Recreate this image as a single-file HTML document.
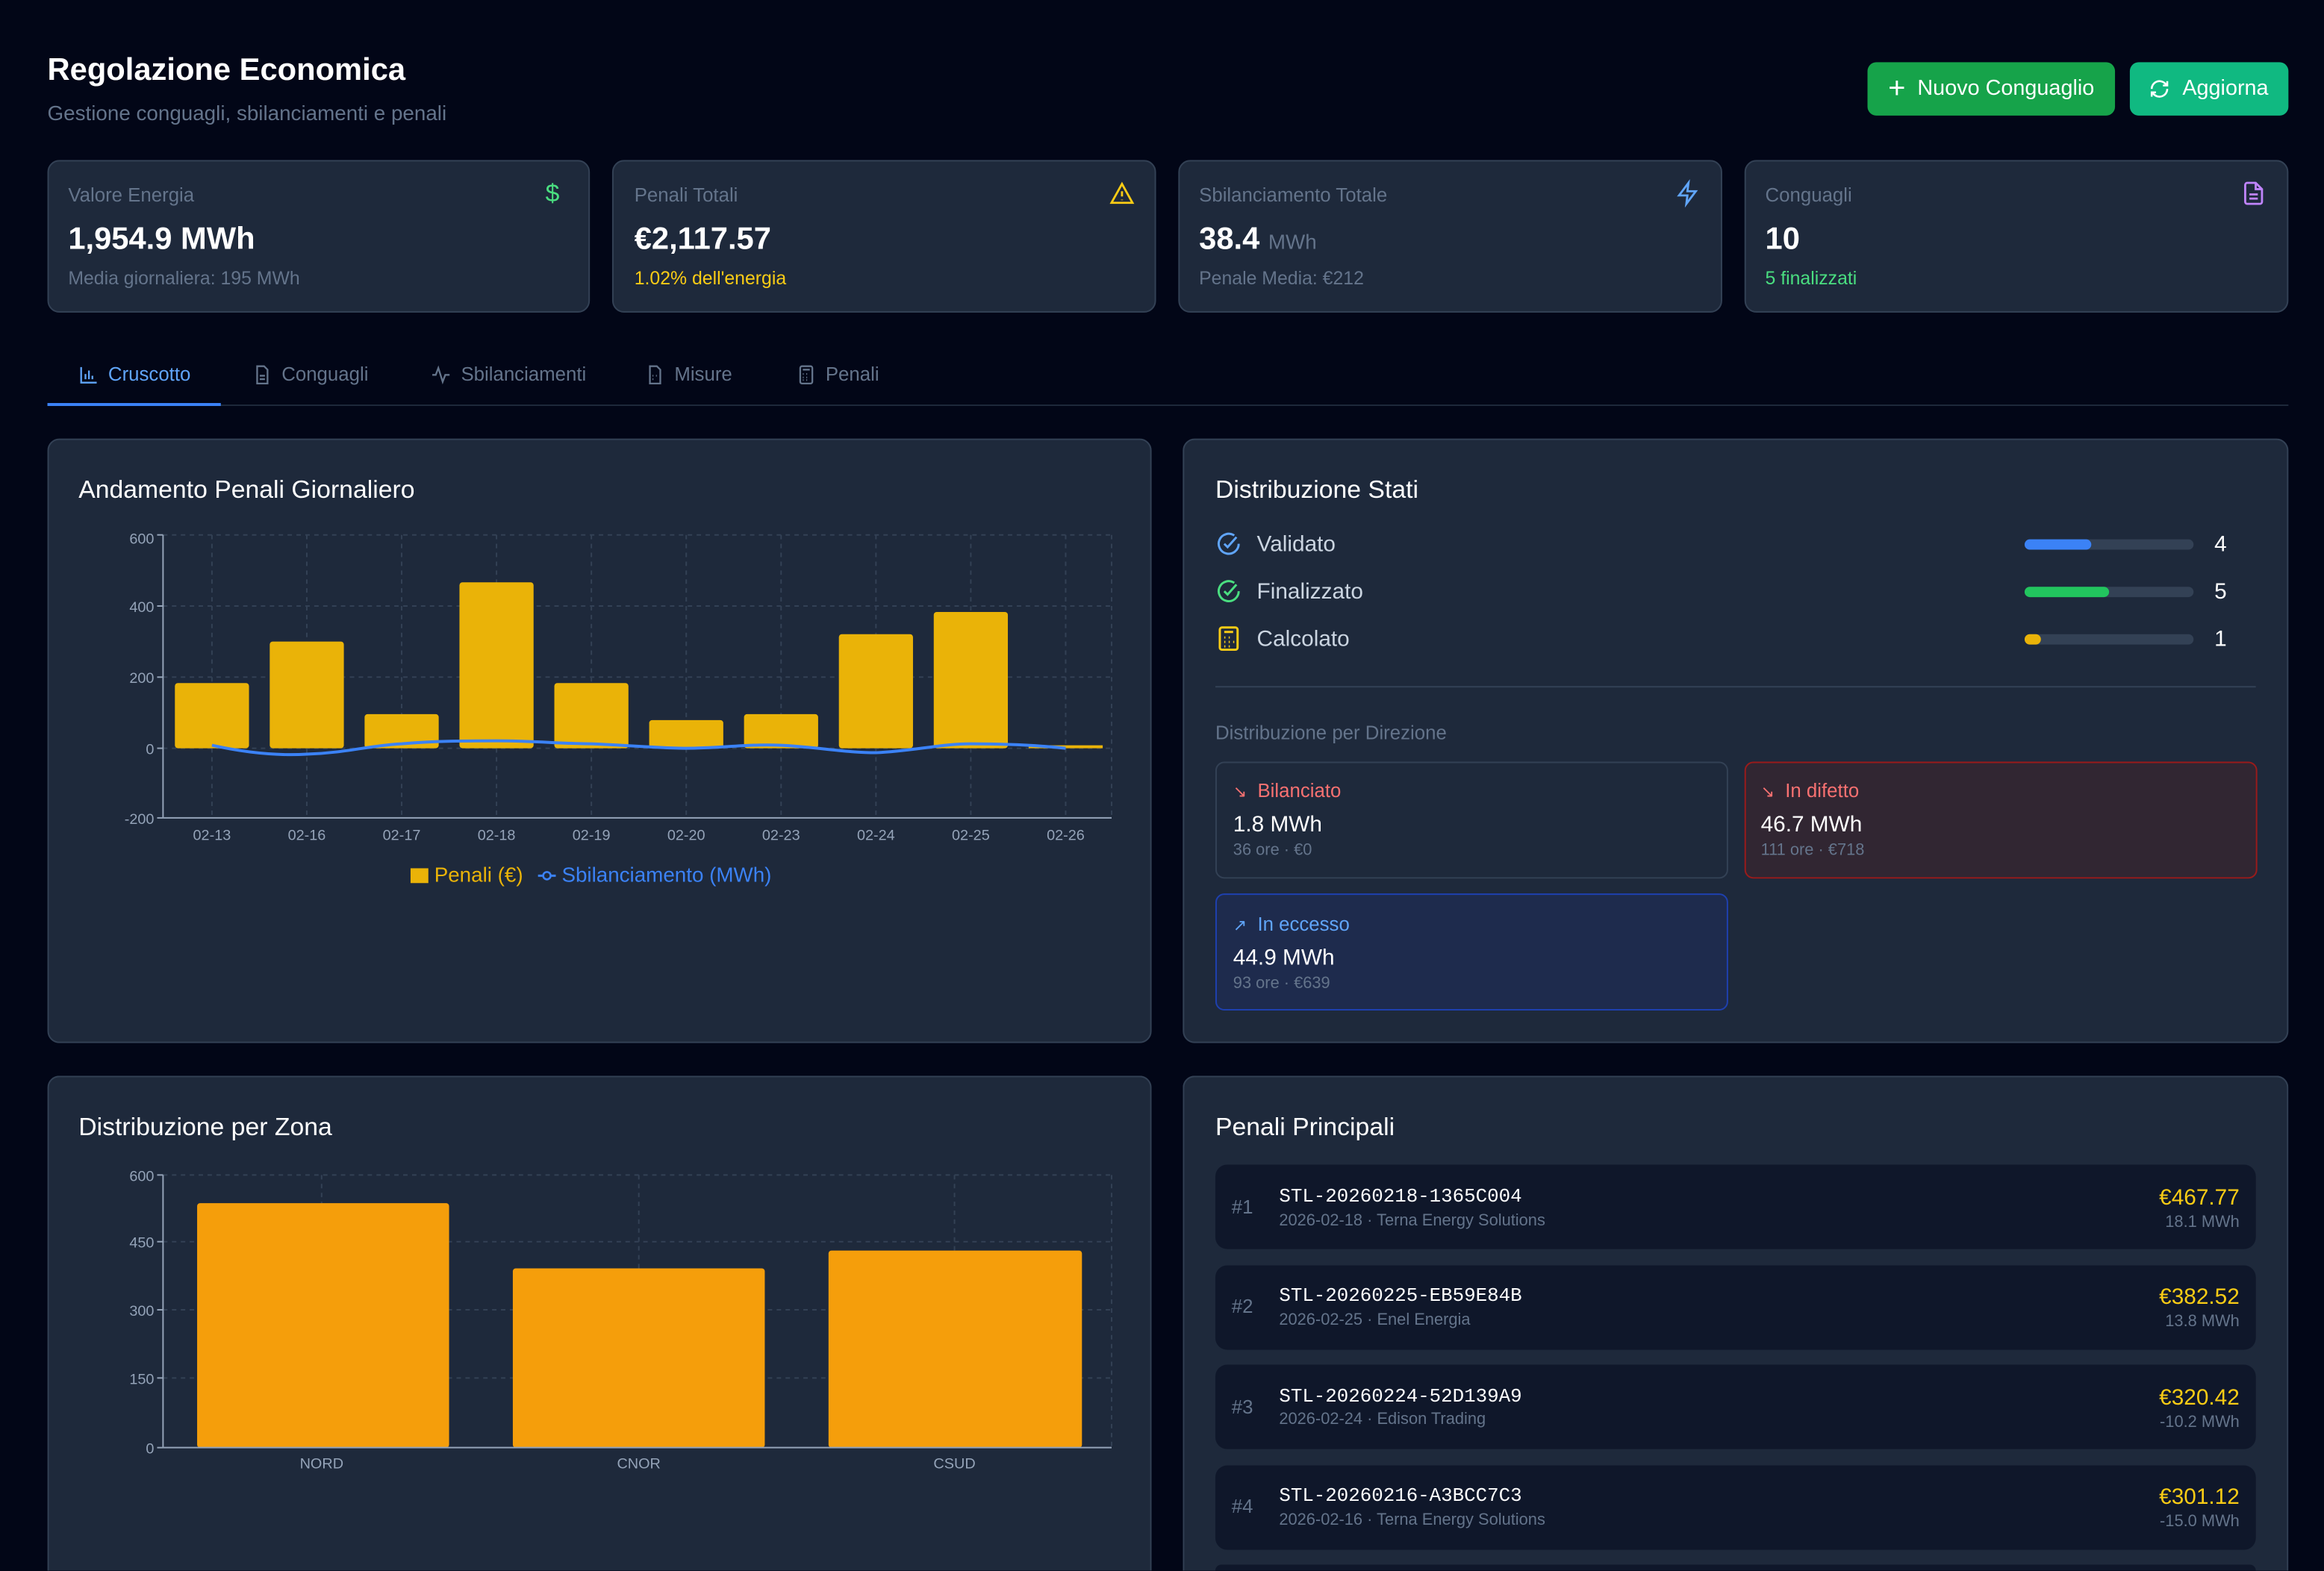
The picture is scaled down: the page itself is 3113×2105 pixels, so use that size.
<!DOCTYPE html>
<html><head><meta charset="utf-8">
<style>
*{box-sizing:border-box;margin:0;padding:0}
html,body{width:3113px;height:2105px;overflow:hidden;background:#020617}
#wrap{position:absolute;left:0;top:0;width:3113px;height:2105px;overflow:hidden}
#root{position:absolute;left:0;top:0;width:1568px;height:1060px;overflow:hidden;transform:scale(1.98533);transform-origin:0 0;font-family:"Liberation Sans",sans-serif;color:#fff;background:#020617}
.a{position:absolute;white-space:nowrap}
.card{position:absolute;background:#1e293b;border:1px solid #334155;border-radius:8px}
.cardb{position:absolute;background:#1e293b;border:1px solid #334155;border-bottom:none;border-radius:8px 8px 0 0}
.lbl{font-size:13px;color:#64748b}
.btn{position:absolute;border-radius:6px;color:#fff;font-size:14.5px;display:flex;align-items:center;justify-content:center;gap:8px}
.tab{position:absolute;top:245px;font-size:13px;color:#64748b;display:flex;align-items:center;gap:6px}
.row{position:absolute;left:820px;width:702px;height:57px;background:#0f172a;border-radius:8px}
.mono{font-family:"Liberation Mono",monospace}
</style></head><body><div id="wrap"><div id="root">

<div class="a" style="left:32px;top:36px;font-size:21px;font-weight:bold">Regolazione Economica</div>
<div class="a" style="left:32px;top:68px;font-size:14px;color:#64748b">Gestione conguagli, sbilanciamenti e penali</div>
<div class="btn" style="left:1260px;top:42px;width:167px;height:36px;background:#16a34a"><span style="font-size:20px;font-weight:300;line-height:1">+</span>Nuovo Conguaglio</div>
<div class="btn" style="left:1437px;top:42px;width:107px;height:36px;background:#10b981"><svg width="14" height="14" viewBox="0 0 24 24" fill="none" stroke="#fff" stroke-width="2.2"><path d="M3 12a9 9 0 0 1 15-6.7L21 8M21 3v5h-5M21 12a9 9 0 0 1-15 6.7L3 16M3 21v-5h5"/></svg>Aggiorna</div>

<div class="card" style="left:32px;top:108px;width:366px;height:103px"></div>
<div class="card" style="left:413px;top:108px;width:367px;height:103px"></div>
<div class="card" style="left:795px;top:108px;width:367px;height:103px"></div>
<div class="card" style="left:1177px;top:108px;width:367px;height:103px"></div>
<div class="a lbl" style="left:46px;top:124px">Valore Energia</div>
<div class="a lbl" style="left:428px;top:124px">Penali Totali</div>
<div class="a lbl" style="left:809px;top:124px">Sbilanciamento Totale</div>
<div class="a lbl" style="left:1191px;top:124px">Conguagli</div>
<div class="a" style="left:368px;top:121px;color:#4ade80;font-size:17px">$</div>
<svg class="a" style="left:748px;top:122px" width="18" height="17" viewBox="0 0 24 24" fill="none" stroke="#facc15" stroke-width="2"><path d="M12 3 2 21h20z M12 10v5 M12 18v.5"/></svg>
<svg class="a" style="left:1130px;top:121px" width="17" height="19" viewBox="0 0 24 24" fill="none" stroke="#60a5fa" stroke-width="2"><path d="M13 2 4 14h8l-1 8 9-12h-8z"/></svg>
<svg class="a" style="left:1512px;top:121px" width="17" height="19" viewBox="0 0 24 24" fill="none" stroke="#c084fc" stroke-width="2"><path d="M14 2H6a2 2 0 0 0-2 2v16a2 2 0 0 0 2 2h12a2 2 0 0 0 2-2V8z M14 2v6h6 M8 13h8 M8 17h8"/></svg>
<div class="a" style="left:46px;top:150px;font-size:21px;font-weight:bold">1,954.9 MWh</div>
<div class="a" style="left:428px;top:150px;font-size:21px;font-weight:bold">€2,117.57</div>
<div class="a" style="left:809px;top:150px;font-size:21px;font-weight:bold">38.4 <span style="font-size:14px;font-weight:normal;color:#64748b">MWh</span></div>
<div class="a" style="left:1191px;top:150px;font-size:21px;font-weight:bold">10</div>
<div class="a" style="left:46px;top:181px;font-size:12.5px;color:#64748b">Media giornaliera: 195 MWh</div>
<div class="a" style="left:428px;top:181px;font-size:12.5px;color:#facc15">1.02% dell'energia</div>
<div class="a" style="left:809px;top:181px;font-size:12.5px;color:#64748b">Penale Media: €212</div>
<div class="a" style="left:1191px;top:181px;font-size:12.5px;color:#4ade80">5 finalizzati</div>

<div class="a" style="left:32px;top:273px;width:1512px;height:1px;background:#1e293b"></div>
<div class="a" style="left:32px;top:272px;width:117px;height:2px;background:#3b82f6"></div>
<div class="tab" style="left:53px;color:#60a5fa"><svg width="14" height="14" viewBox="0 0 24 24" fill="none" stroke="#60a5fa" stroke-width="2"><path d="M3 3v18h18M8 17V11M12 17V7M16 17v-4"/></svg>Cruscotto</div>
<div class="tab" style="left:170px"><svg width="14" height="14" viewBox="0 0 24 24" fill="none" stroke="#64748b" stroke-width="2"><path d="M14 2H6v20h12V6z M9 13h6M9 17h6"/></svg>Conguagli</div>
<div class="tab" style="left:290px"><svg width="15" height="14" viewBox="0 0 24 24" fill="none" stroke="#64748b" stroke-width="2"><path d="M2 12h4l3-8 5 16 3-8h5"/></svg>Sbilanciamenti</div>
<div class="tab" style="left:435px"><svg width="14" height="14" viewBox="0 0 24 24" fill="none" stroke="#64748b" stroke-width="2"><path d="M14 2H6v20h12V6z M9 13h1M9 17h1M13 13h1"/></svg>Misure</div>
<div class="tab" style="left:537px"><svg width="14" height="14" viewBox="0 0 24 24" fill="none" stroke="#64748b" stroke-width="2"><rect x="5" y="2" width="14" height="20" rx="2"/><path d="M8 6h8M8 11h1M12 11h1M8 15h1M12 15h1M8 18h1M12 18h1"/></svg>Penali</div>

<div class="card" style="left:32px;top:296px;width:745px;height:408px"></div>
<div class="card" style="left:798px;top:296px;width:746px;height:408px"></div>
<div class="cardb" style="left:32px;top:726px;width:745px;height:334px"></div>
<div class="cardb" style="left:798px;top:726px;width:746px;height:334px"></div>

<div class="a" style="left:53px;top:321px;font-size:17px">Andamento Penali Giornaliero</div>
<svg class="a" style="left:0;top:0" width="1568" height="1060" font-family="Liberation Sans, sans-serif">
 <g stroke="#334155" stroke-dasharray="3,3" stroke-width="1">
  <line x1="110" y1="361" x2="750" y2="361"/><line x1="110" y1="409" x2="750" y2="409"/><line x1="110" y1="457" x2="750" y2="457"/><line x1="110" y1="505" x2="750" y2="505"/>
  <line x1="143" y1="361" x2="143" y2="552"/><line x1="207" y1="361" x2="207" y2="552"/><line x1="271" y1="361" x2="271" y2="552"/><line x1="335" y1="361" x2="335" y2="552"/><line x1="399" y1="361" x2="399" y2="552"/><line x1="463" y1="361" x2="463" y2="552"/><line x1="527" y1="361" x2="527" y2="552"/><line x1="591" y1="361" x2="591" y2="552"/><line x1="655" y1="361" x2="655" y2="552"/><line x1="719" y1="361" x2="719" y2="552"/><line x1="750" y1="361" x2="750" y2="552"/>
 </g>
 <g fill="#eab308">
  <rect x="118" y="461" width="50" height="44" rx="2"/><rect x="182" y="433" width="50" height="72" rx="2"/><rect x="246" y="482" width="50" height="23" rx="2"/><rect x="310" y="393" width="50" height="112" rx="2"/><rect x="374" y="461" width="50" height="44" rx="2"/><rect x="438" y="486" width="50" height="19" rx="2"/><rect x="502" y="482" width="50" height="23" rx="2"/><rect x="566" y="428" width="50" height="77" rx="2"/><rect x="630" y="413" width="50" height="92" rx="2"/><rect x="694" y="503" width="50" height="2"/>
 </g>
 <path d="M143 503 C170 509,190 510,207 509 C235 508,250 503,271 502 C295 500,315 500,335 500 C360 500,380 502,399 502 C425 503,445 505,463 505 C485 505,505 502,527 503 C550 504,570 508,591 508 C615 507,635 502,655 502 C680 502,700 503,719 505" fill="none" stroke="#3b82f6" stroke-width="2"/>
 <g stroke="#94a3b8" stroke-width="1"><line x1="110" y1="361" x2="110" y2="552"/><line x1="110" y1="552" x2="750" y2="552"/>
  <line x1="106" y1="361" x2="110" y2="361"/><line x1="106" y1="409" x2="110" y2="409"/><line x1="106" y1="457" x2="110" y2="457"/><line x1="106" y1="505" x2="110" y2="505"/><line x1="106" y1="552" x2="110" y2="552"/></g>
 <g font-size="10" fill="#94a3b8" text-anchor="end"><text x="104" y="367">600</text><text x="104" y="413">400</text><text x="104" y="461">200</text><text x="104" y="509">0</text><text x="104" y="556">-200</text></g>
 <g font-size="10" fill="#94a3b8" text-anchor="middle"><text x="143" y="567">02-13</text><text x="207" y="567">02-16</text><text x="271" y="567">02-17</text><text x="335" y="567">02-18</text><text x="399" y="567">02-19</text><text x="463" y="567">02-20</text><text x="527" y="567">02-23</text><text x="591" y="567">02-24</text><text x="655" y="567">02-25</text><text x="719" y="567">02-26</text></g>
 <rect x="277" y="586" width="12" height="10" fill="#eab308"/>
 <text x="293" y="595" font-size="14" fill="#eab308">Penali (€)</text>
 <line x1="363" y1="591" x2="375" y2="591" stroke="#3b82f6" stroke-width="1.5"/><circle cx="369" cy="591" r="2.5" fill="#1e293b" stroke="#3b82f6" stroke-width="1.3"/>
 <text x="379" y="595" font-size="14" fill="#3b82f6">Sbilanciamento (MWh)</text>

 <g stroke="#334155" stroke-dasharray="3,3">
  <line x1="110" y1="793" x2="750" y2="793"/><line x1="110" y1="838" x2="750" y2="838"/><line x1="110" y1="884" x2="750" y2="884"/><line x1="110" y1="930" x2="750" y2="930"/>
  <line x1="217" y1="793" x2="217" y2="977"/><line x1="431" y1="793" x2="431" y2="977"/><line x1="644" y1="793" x2="644" y2="977"/><line x1="750" y1="793" x2="750" y2="977"/>
 </g>
 <g fill="#f59e0b"><rect x="133" y="812" width="170" height="165" rx="2"/><rect x="346" y="856" width="170" height="121" rx="2"/><rect x="559" y="844" width="171" height="133" rx="2"/></g>
 <g stroke="#94a3b8"><line x1="110" y1="793" x2="110" y2="977"/><line x1="110" y1="977" x2="750" y2="977"/>
  <line x1="106" y1="793" x2="110" y2="793"/><line x1="106" y1="838" x2="110" y2="838"/><line x1="106" y1="884" x2="110" y2="884"/><line x1="106" y1="930" x2="110" y2="930"/><line x1="106" y1="977" x2="110" y2="977"/></g>
 <g font-size="10" fill="#94a3b8" text-anchor="end"><text x="104" y="797">600</text><text x="104" y="842">450</text><text x="104" y="888">300</text><text x="104" y="934">150</text><text x="104" y="981">0</text></g>
 <g font-size="10" fill="#94a3b8" text-anchor="middle"><text x="217" y="991">NORD</text><text x="431" y="991">CNOR</text><text x="644" y="991">CSUD</text></g>
</svg>
<div class="a" style="left:53px;top:751px;font-size:17px">Distribuzione per Zona</div>

<div class="a" style="left:820px;top:321px;font-size:17px">Distribuzione Stati</div>
<svg class="a" style="left:820px;top:358px" width="18" height="18" viewBox="0 0 24 24" fill="none" stroke="#60a5fa" stroke-width="2"><path d="M21 12a9 9 0 1 1-4-7.5"/><path d="m8 12 3 3 8-9"/></svg>
<svg class="a" style="left:820px;top:390px" width="18" height="18" viewBox="0 0 24 24" fill="none" stroke="#4ade80" stroke-width="2"><path d="M21 12a9 9 0 1 1-4-7.5"/><path d="m8 12 3 3 8-9"/></svg>
<svg class="a" style="left:821px;top:422px" width="16" height="18" viewBox="0 0 20 24" fill="none" stroke="#facc15" stroke-width="2"><rect x="2" y="2" width="16" height="20" rx="2"/><path d="M6 6h8M6 11h1M10 11h1M6 15h1M10 15h1M14 15h1M6 19h1M10 19h1"/></svg>
<div class="a" style="left:848px;top:359px;font-size:15px;color:#cbd5e1">Validato</div>
<div class="a" style="left:848px;top:391px;font-size:15px;color:#cbd5e1">Finalizzato</div>
<div class="a" style="left:848px;top:423px;font-size:15px;color:#cbd5e1">Calcolato</div>
<div class="a" style="left:1366px;top:364px;width:114px;height:7px;background:#334155;border-radius:4px"><div style="width:45px;height:7px;background:#3b82f6;border-radius:4px"></div></div>
<div class="a" style="left:1366px;top:396px;width:114px;height:7px;background:#334155;border-radius:4px"><div style="width:57px;height:7px;background:#22c55e;border-radius:4px"></div></div>
<div class="a" style="left:1366px;top:428px;width:114px;height:7px;background:#334155;border-radius:4px"><div style="width:11px;height:7px;background:#eab308;border-radius:4px"></div></div>
<div class="a" style="left:1494px;top:359px;font-size:15px">4</div>
<div class="a" style="left:1494px;top:391px;font-size:15px">5</div>
<div class="a" style="left:1494px;top:423px;font-size:15px">1</div>
<div class="a" style="left:820px;top:463px;width:702px;height:1px;background:#334155"></div>
<div class="a lbl" style="left:820px;top:487px">Distribuzione per Direzione</div>

<div class="a" style="left:820px;top:514px;width:346px;height:79px;border:1px solid #334155;border-radius:6px"></div>
<div class="a" style="left:1177px;top:514px;width:346px;height:79px;border:1px solid #991b1b;border-radius:6px;background:#312632"></div>
<div class="a" style="left:820px;top:603px;width:346px;height:79px;border:1px solid #1e40af;border-radius:6px;background:#1e2b4d"></div>
<div class="a" style="left:832px;top:526px;font-size:13px;color:#f87171"><span style="font-size:11px">↘</span>&nbsp; Bilanciato</div>
<div class="a" style="left:1188px;top:526px;font-size:13px;color:#f87171"><span style="font-size:11px">↘</span>&nbsp; In difetto</div>
<div class="a" style="left:832px;top:616px;font-size:13px;color:#60a5fa"><span style="font-size:11px">↗</span>&nbsp; In eccesso</div>
<div class="a" style="left:832px;top:548px;font-size:15px">1.8 MWh</div>
<div class="a" style="left:1188px;top:548px;font-size:15px">46.7 MWh</div>
<div class="a" style="left:832px;top:638px;font-size:15px">44.9 MWh</div>
<div class="a" style="left:832px;top:568px;font-size:11px;color:#64748b">36 ore · €0</div>
<div class="a" style="left:1188px;top:568px;font-size:11px;color:#64748b">111 ore · €718</div>
<div class="a" style="left:832px;top:658px;font-size:11px;color:#64748b">93 ore · €639</div>

<div class="a" style="left:820px;top:751px;font-size:17px">Penali Principali</div>
<div class="row" style="top:786px"></div><div class="row" style="top:854px"></div><div class="row" style="top:921px"></div><div class="row" style="top:989px"></div><div class="row" style="top:1056px;height:4px;border-radius:8px 8px 0 0"></div>

<div class="a" style="left:831px;top:807px;font-size:13px;color:#64748b">#1</div>
<div class="a mono" style="left:863px;top:800px;font-size:13px">STL-20260218-1365C004</div>
<div class="a" style="left:863px;top:818px;font-size:11px;color:#64748b">2026-02-18 · Terna Energy Solutions</div>
<div class="a" style="right:57px;top:800px;font-size:15px;color:#facc15">€467.77</div>
<div class="a" style="right:57px;top:819px;font-size:11px;color:#64748b">18.1 MWh</div>

<div class="a" style="left:831px;top:874px;font-size:13px;color:#64748b">#2</div>
<div class="a mono" style="left:863px;top:867px;font-size:13px">STL-20260225-EB59E84B</div>
<div class="a" style="left:863px;top:885px;font-size:11px;color:#64748b">2026-02-25 · Enel Energia</div>
<div class="a" style="right:57px;top:867px;font-size:15px;color:#facc15">€382.52</div>
<div class="a" style="right:57px;top:886px;font-size:11px;color:#64748b">13.8 MWh</div>

<div class="a" style="left:831px;top:942px;font-size:13px;color:#64748b">#3</div>
<div class="a mono" style="left:863px;top:935px;font-size:13px">STL-20260224-52D139A9</div>
<div class="a" style="left:863px;top:952px;font-size:11px;color:#64748b">2026-02-24 · Edison Trading</div>
<div class="a" style="right:57px;top:935px;font-size:15px;color:#facc15">€320.42</div>
<div class="a" style="right:57px;top:954px;font-size:11px;color:#64748b">-10.2 MWh</div>

<div class="a" style="left:831px;top:1009px;font-size:13px;color:#64748b">#4</div>
<div class="a mono" style="left:863px;top:1002px;font-size:13px">STL-20260216-A3BCC7C3</div>
<div class="a" style="left:863px;top:1020px;font-size:11px;color:#64748b">2026-02-16 · Terna Energy Solutions</div>
<div class="a" style="right:57px;top:1002px;font-size:15px;color:#facc15">€301.12</div>
<div class="a" style="right:57px;top:1021px;font-size:11px;color:#64748b">-15.0 MWh</div>

</div></div></body></html>
